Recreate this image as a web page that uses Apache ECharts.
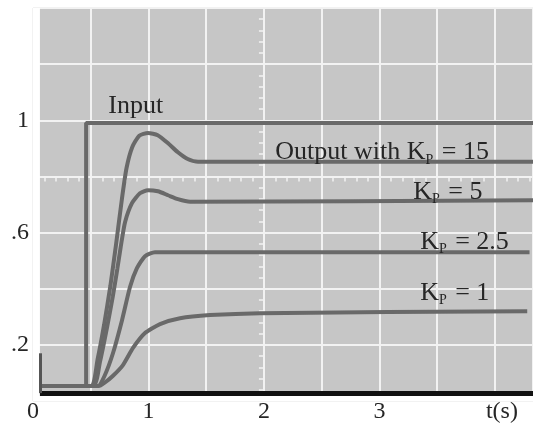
<!DOCTYPE html>
<html>
<head>
<meta charset="utf-8">
<script src="https://cdn.jsdelivr.net/npm/echarts@6/dist/echarts.min.js"></script>
<style>html,body{margin:0;padding:0;background:#fff}#c{width:533px;height:424px}</style>
</head>
<body>
<div id="c"></div>
<script>
// ---- data (time in s, response value) ----
const inputT = [0.06, 0.46, 0.46, 4.33];
const inputV = [0.053, 0.053, 0.99, 0.99];

const kp15T = [0.06, 0.50, 0.56, 0.615, 0.67, 0.72, 0.77, 0.81, 0.86, 0.92, 0.996, 1.08, 1.17, 1.255, 1.34, 1.43, 4.33];
const kp15V = [0.053, 0.053, 0.15, 0.27, 0.41, 0.56, 0.72, 0.83, 0.905, 0.945, 0.955, 0.947, 0.918, 0.886, 0.862, 0.852, 0.852];

const kp5T = [0.06, 0.52, 0.58, 0.64, 0.69, 0.73, 0.76, 0.797, 0.857, 0.926, 0.996, 1.082, 1.169, 1.255, 1.36, 4.33];
const kp5V = [0.053, 0.053, 0.14, 0.26, 0.37, 0.47, 0.55, 0.637, 0.705, 0.740, 0.751, 0.747, 0.733, 0.719, 0.71, 0.715];

const kp25T = [0.06, 0.56, 0.62, 0.693, 0.771, 0.84, 0.90, 0.97, 1.056, 4.30];
const kp25V = [0.053, 0.053, 0.09, 0.171, 0.288, 0.406, 0.473, 0.516, 0.53, 0.53];

const kp1T = [0.06, 0.57, 0.62, 0.693, 0.779, 0.866, 0.970, 1.10, 1.273, 1.532, 1.965, 4.28];
const kp1V = [0.053, 0.053, 0.065, 0.090, 0.128, 0.189, 0.242, 0.274, 0.295, 0.306, 0.313, 0.32];

const xTickValues = [0, 1, 2, 3, 4];
const xTickText = ['0', '1', '2', '3', 't(s)'];
const yTickValues = [0.2, 0.6, 1.0];
const yTickText = ['.2', '.6', '1'];

// graticule centre lines (with fine ticks) of the scope screen
const centreV = 0.8;
const centreT = 2;

// annotations: [t, v, text, subscript, rest]
const annInput = [0.65, 1.05, 'Input'];
const annKp15 = [2.095, 0.886, 'Output with K', 'P', ' = 15'];
const annKp5 = [3.29, 0.744, 'K', 'P', ' = 5'];
const annKp25 = [3.35, 0.566, 'K', 'P', ' = 2.5'];
const annKp1 = [3.35, 0.384, 'K', 'P', ' = 1'];

const frameT = [0.06, 4.33];
const frameV = [0.028, 1.4];

// ---- build ----
const zip = (a, b) => a.map((v, i) => [v, b[i]]);
const FONT = 'Liberation Serif';
const TXT = '#262626';
const TRACE = '#696969';
const GRIDC = '#f2f2f2';
const X_MAX = 4.33, Y_MAX = 1.4;
const GRID = { left: 33, right: 0, top: 8, bottom: 23 };
const plotW = 533 - GRID.left - GRID.right, plotH = 424 - GRID.top - GRID.bottom;

function lineSeries(name, T, V, smooth) {
  return {
    name, type: 'line', data: zip(T, V), showSymbol: false, symbol: 'none',
    smooth: smooth ? 0.2 : false,
    lineStyle: { color: TRACE, width: 4 }, z: 3, silent: true
  };
}

function ann(a) {
  const rich = {
    a: { fontSize: 26, fontFamily: FONT, color: TXT, lineHeight: 30 },
    b: { fontSize: 14, fontFamily: FONT, color: TXT, lineHeight: 30, verticalAlign: 'bottom', padding: [0, 2, 0, 0] }
  };
  const fmt = a.length > 3 ? '{a|' + a[2] + '}{b|' + a[3] + '}{a|' + a[4] + '}' : '{a|' + a[2] + '}';
  return {
    coord: [a[0], a[1]], symbolSize: 1, itemStyle: { color: 'rgba(0,0,0,0)' },
    label: { show: true, position: 'right', distance: 0, formatter: fmt, rich }
  };
}

const chart = echarts.init(document.getElementById('c'), null, { renderer: 'canvas' });
chart.setOption({
  animation: false,
  backgroundColor: '#ffffff',
  grid: Object.assign({ show: true, backgroundColor: '#c6c6c6', borderWidth: 0 }, GRID),
  xAxis: [{
    type: 'value', min: 0, max: X_MAX, interval: 0.5,
    axisLine: { show: false, onZero: false }, axisTick: { show: false },
    splitLine: { show: true, lineStyle: { color: GRIDC, width: 2 } },
    axisLabel: {
      margin: -1, fontSize: 24, fontFamily: FONT, color: TXT, showMaxLabel: false,
      formatter: v => {
        const i = xTickValues.findIndex(x => Math.abs(x - v) < 1e-6);
        if (i < 0) return '';
        return i === xTickValues.length - 1 ? '{t|' + xTickText[i] + '}' : xTickText[i];
      },
      rich: { t: { fontSize: 24, fontFamily: FONT, color: TXT, padding: [0, 0, 0, 14] } }
    }
  }, {
    type: 'value', min: 0, max: X_MAX, interval: 0.5, position: 'bottom',
    offset: -centreV / Y_MAX * plotH,
    axisLine: { show: false, onZero: false }, axisLabel: { show: false }, splitLine: { show: false },
    axisTick: { show: false },
    minorTick: { show: true, splitNumber: 5, length: 5, lineStyle: { color: GRIDC, width: 1.5 } }
  }],
  yAxis: [{
    type: 'value', min: 0, max: Y_MAX, interval: 0.2,
    axisLine: { show: false, onZero: false }, axisTick: { show: false },
    splitLine: { show: true, lineStyle: { color: GRIDC, width: 2 } },
    axisLabel: {
      margin: 4, fontSize: 24, fontFamily: FONT, color: TXT,
      formatter: v => { const i = yTickValues.findIndex(x => Math.abs(x - v) < 1e-6); return i >= 0 ? yTickText[i] : ''; }
    }
  }, {
    type: 'value', min: 0, max: Y_MAX, interval: 0.2, position: 'left',
    offset: -centreT / X_MAX * plotW,
    axisLine: { show: false, onZero: false }, axisLabel: { show: false }, splitLine: { show: false },
    axisTick: { show: false },
    minorTick: { show: true, splitNumber: 5, length: 5, lineStyle: { color: GRIDC, width: 1.5 } }
  }],
  series: [
    {
      name: 'mask', type: 'line', data: [], z: 2, silent: true,
      markArea: {
        silent: true,
        itemStyle: { color: '#ffffff' },
        data: [
          [{ coord: [0, 0] }, { coord: [frameT[0], frameV[1]] }],
          [{ coord: [0, 0] }, { coord: [frameT[1], frameV[0]] }]
        ]
      }
    },
    {
      name: 'frame', type: 'line', data: [], z: 4, silent: true,
      markLine: {
        silent: true, symbol: ['none', 'none'], label: { show: false },
        data: [
          [{ coord: [frameT[0], frameV[0]], lineStyle: { color: '#111', width: 5, type: 'solid' } }, { coord: [frameT[1], frameV[0]] }],
          [{ coord: [frameT[0], frameV[0]], lineStyle: { color: '#555', width: 3, type: 'solid' } }, { coord: [frameT[0], 0.17] }]
        ]
      }
    },
    Object.assign(lineSeries('Input', inputT, inputV, false), { markPoint: { silent: true, data: [ann(annInput)] } }),
    Object.assign(lineSeries('Kp15', kp15T, kp15V, true), { markPoint: { silent: true, data: [ann(annKp15)] } }),
    Object.assign(lineSeries('Kp5', kp5T, kp5V, true), { markPoint: { silent: true, data: [ann(annKp5)] } }),
    Object.assign(lineSeries('Kp2.5', kp25T, kp25V, true), { markPoint: { silent: true, data: [ann(annKp25)] } }),
    Object.assign(lineSeries('Kp1', kp1T, kp1V, true), { markPoint: { silent: true, data: [ann(annKp1)] } })
  ]
});
</script>
</body>
</html>
